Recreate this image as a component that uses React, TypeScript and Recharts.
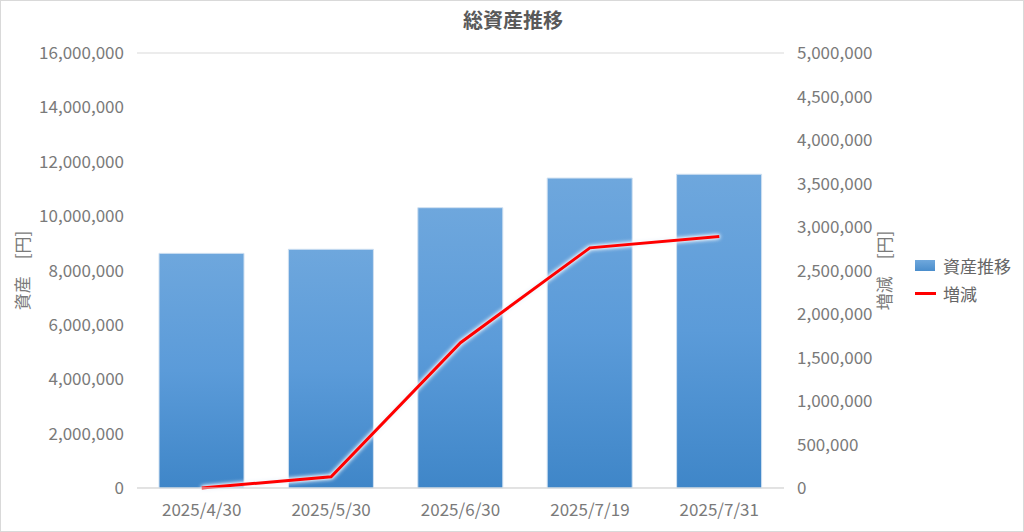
import { ComposedChart, Bar, Line, XAxis, YAxis, CartesianGrid } from 'recharts';

const dates = ['2025/4/30', '2025/5/30', '2025/6/30', '2025/7/19', '2025/7/31'];
const totalAssets = [8630000, 8780000, 10310000, 11400000, 11540000];
const changes = [0, 130000, 1670000, 2760000, 2890000];
const leftTicks = [0, 2000000, 4000000, 6000000, 8000000, 10000000, 12000000, 14000000, 16000000];
const rightTicks = [0, 500000, 1000000, 1500000, 2000000, 2500000, 3000000, 3500000, 4000000, 4500000, 5000000];

const data = dates.map((d, i) => ({ date: d, total: totalAssets[i], change: changes[i] }));

const FONT = '"Noto Sans CJK JP", "Noto Sans", sans-serif';
const TICK = '#7a7a7a';
const FS = 17;
const fmt = (v: number) => v.toLocaleString('en-US');

const LegendBox = () => (
  <div style={{ position: 'absolute', left: 914, top: 252, fontFamily: FONT, fontSize: FS, color: '#666' }}>
    <div style={{ display: 'flex', alignItems: 'center', height: 24 }}>
      <span style={{ width: 20, height: 11, background: 'linear-gradient(#6fa8dc, #4a8dcc)', marginRight: 8, display: 'inline-block' }} />
      資産推移
    </div>
    <div style={{ display: 'flex', alignItems: 'center', height: 24, marginTop: 4 }}>
      <span style={{ width: 21, height: 3, background: '#ff0000', marginRight: 7, display: 'inline-block' }} />
      増減
    </div>
  </div>
);

export default function App() {
  return (
    <div style={{ position: 'absolute', left: 0, top: 0, width: 1024, height: 532, background: '#fff', border: '1px solid #d9d9d9', boxSizing: 'border-box', overflow: 'hidden' }}>
      <div style={{ position: 'absolute', top: 4, left: 0, width: 1024, textAlign: 'center', fontFamily: FONT, fontWeight: 700, fontSize: 20, color: '#595959' }}>
        総資産推移
      </div>
      <div style={{ position: 'absolute', left: -1, top: -1 }}>
        <ComposedChart width={1024} height={532} data={data} margin={{ top: 53, right: 120, left: 0, bottom: 0 }}>
          <defs>
            <linearGradient id="barGrad" x1="0" y1="0" x2="0" y2="1">
              <stop offset="0%" stopColor="#6ea7dd" />
              <stop offset="50%" stopColor="#5b9bd9" />
              <stop offset="100%" stopColor="#3f86c8" />
            </linearGradient>
          </defs>
          <CartesianGrid vertical={false} stroke="#d9d9d9" />
          <XAxis
            dataKey="date"
            height={44}
            tick={{ fontSize: FS, fill: TICK, fontFamily: FONT }}
            axisLine={{ stroke: '#d9d9d9' }}
            tickLine={false}
            tickMargin={10}
          />
          <YAxis
            yAxisId="left"
            width={137}
            domain={[0, 16000000]}
            ticks={leftTicks}
            tickFormatter={fmt}
            tick={{ fontSize: FS, fill: TICK, fontFamily: FONT }}
            axisLine={false}
            tickLine={false}
            tickMargin={7}
            label={{ value: '資産　[円]', angle: -90, position: 'insideLeft', offset: 23, style: { fontSize: FS, fill: TICK, fontFamily: FONT, textAnchor: 'middle' } }}
          />
          <YAxis
            yAxisId="right"
            orientation="right"
            width={120}
            domain={[0, 5000000]}
            ticks={rightTicks}
            tickFormatter={fmt}
            tick={{ fontSize: FS, fill: TICK, fontFamily: FONT }}
            axisLine={false}
            tickLine={false}
            tickMargin={7}
            label={{ value: '増減　[円]', angle: -90, position: 'insideRight', offset: 19, style: { fontSize: FS, fill: TICK, fontFamily: FONT, textAnchor: 'middle' } }}
          />
          <Bar
            yAxisId="left"
            dataKey="total"
            name="資産推移"
            fill="url(#barGrad)"
            barSize={85}
            stroke="#cfe0f1"
            strokeWidth={1}
            isAnimationActive={false}
          />
          <Line
            yAxisId="right"
            dataKey="change"
            name="増減"
            type="linear"
            stroke="#ff0000"
            strokeWidth={3}
            dot={false}
            activeDot={false}
            style={{ filter: 'drop-shadow(0 0 2px #e6f0fa) drop-shadow(0 0 1px #ffffff)' }}
            isAnimationActive={false}
          />
        </ComposedChart>
      </div>
      <LegendBox />
    </div>
  );
}
